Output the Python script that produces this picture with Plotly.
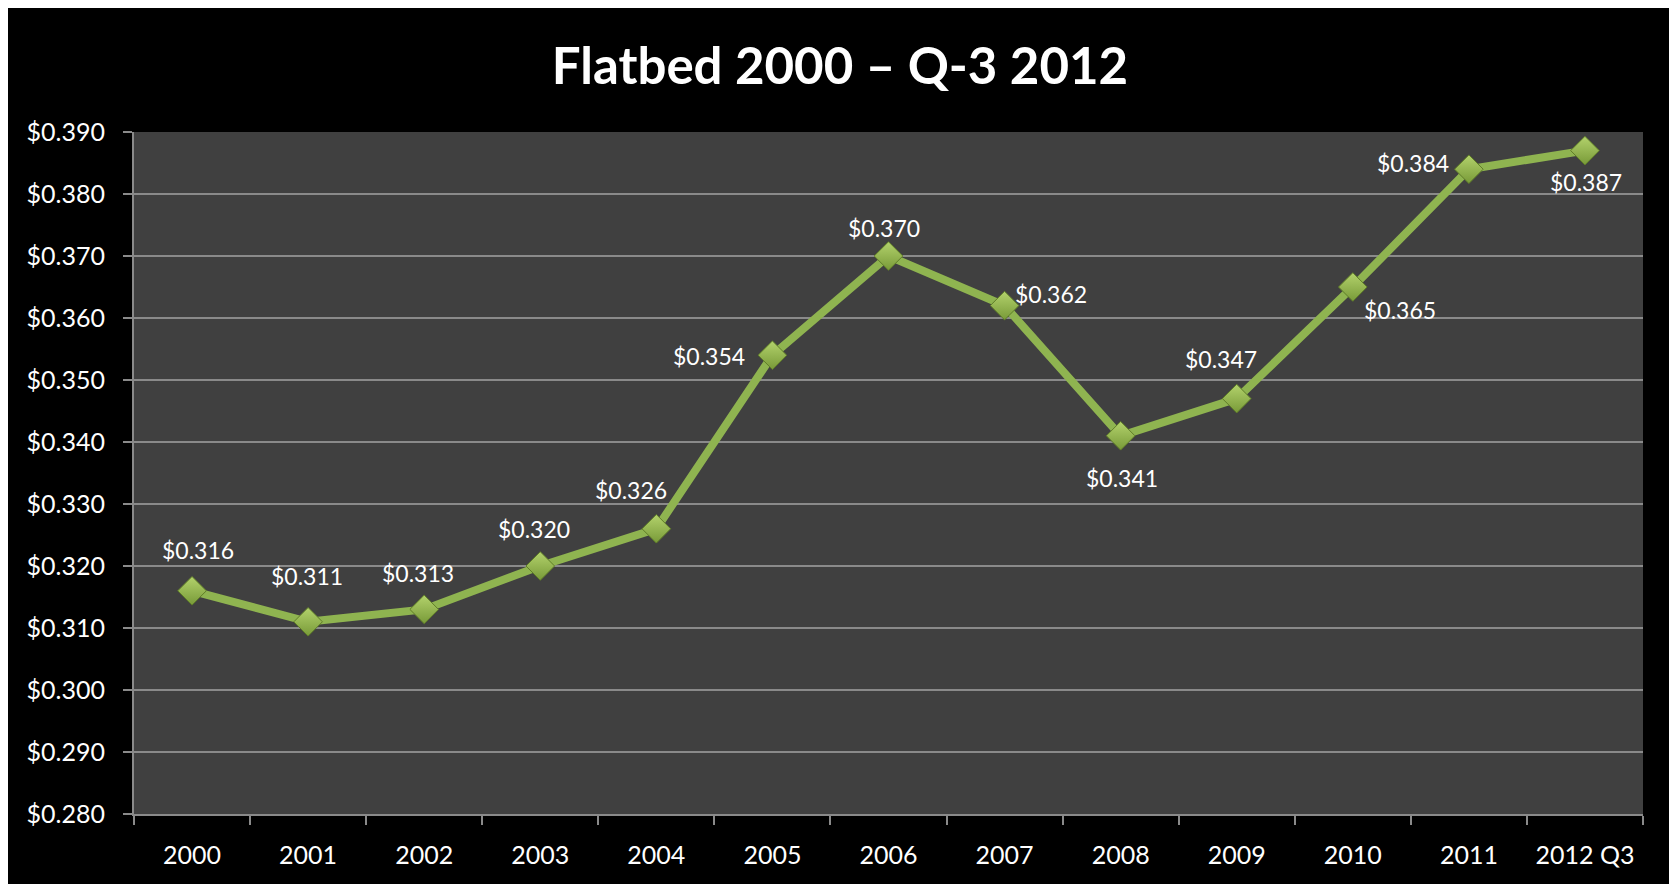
import plotly.graph_objects as go

categories = ["2000", "2001", "2002", "2003", "2004", "2005", "2006",
              "2007", "2008", "2009", "2010", "2011", "2012 Q3"]
values = [0.316, 0.311, 0.313, 0.320, 0.326, 0.354, 0.370,
          0.362, 0.341, 0.347, 0.365, 0.384, 0.387]
y_ticks = [0.28, 0.29, 0.30, 0.31, 0.32, 0.33, 0.34, 0.35, 0.36, 0.37, 0.38, 0.39]
y_tick_text = ["$" + f"{v:.3f}" for v in y_ticks]

# label offsets (pixels) relative to each point: (dx, dy up)
label_offsets = [(6, 41), (-1, 46), (-6, 36), (-6, 37), (-25, 39), (-63, -1), (-5, 28),
                 (46, 12), (1, -42), (-16, 40), (47, -23), (-56, 6), (1, -31)]

W, H = 1664, 876
ml, mr, mt, mb = 126, 29, 124, 70

FONT = "Lato"
GRID = "#8a8a8a"
GREEN = "#8fb450"

fig = go.Figure()
fig.add_trace(go.Scatter(
    x=categories, y=values, mode="lines+markers",
    line=dict(color=GREEN, width=8),
    marker=dict(symbol="diamond", size=22, color="#b3d26c",
                gradient=dict(type="vertical", color="#789a38"),
                line=dict(color="#5f7d28", width=1)),
    hoverinfo="x+y", showlegend=False,
))

annotations = []
for i, (v, (dx, dy)) in enumerate(zip(values, label_offsets)):
    annotations.append(dict(
        x=i, y=v, xref="x", yref="y", text="$" + f"{v:.3f}", showarrow=False,
        xshift=dx, yshift=dy, font=dict(family=FONT, size=23, color="white"),
        xanchor="center", yanchor="middle"))

fig.update_layout(
    width=W, height=H,
    margin=dict(l=ml, r=mr, t=mt, b=mb, pad=0),
    paper_bgcolor="black", plot_bgcolor="#404040",
    title=dict(text="<b>Flatbed 2000 – Q-3 2012</b>", x=0.5, xanchor="center",
               y=1 - 58 / H, yanchor="middle",
               font=dict(family=FONT, size=51, color="white")),
    font=dict(family=FONT, color="white"),
    annotations=annotations,
)
fig.update_xaxes(
    type="category", categoryorder="array", categoryarray=categories,
    range=[-0.5, len(categories) - 0.5],
    showgrid=False, showline=True, linecolor=GRID, linewidth=2,
    ticks="outside", tickson="boundaries", ticklen=9, tickcolor=GRID, tickwidth=2,
    tickfont=dict(family=FONT, size=25, color="white"), ticklabelstandoff=18,
    zeroline=False, fixedrange=True, automargin=False,
)
fig.update_yaxes(
    range=[0.28, 0.39], tickmode="array", tickvals=y_ticks, ticktext=y_tick_text,
    showgrid=True, gridcolor=GRID, gridwidth=2,
    showline=True, linecolor=GRID, linewidth=2,
    ticks="outside", ticklen=9, tickcolor=GRID, tickwidth=2,
    tickfont=dict(family=FONT, size=25, color="white"), ticklabelstandoff=13,
    zeroline=False, fixedrange=True, automargin=False,
)

fig.write_html("out.html")
